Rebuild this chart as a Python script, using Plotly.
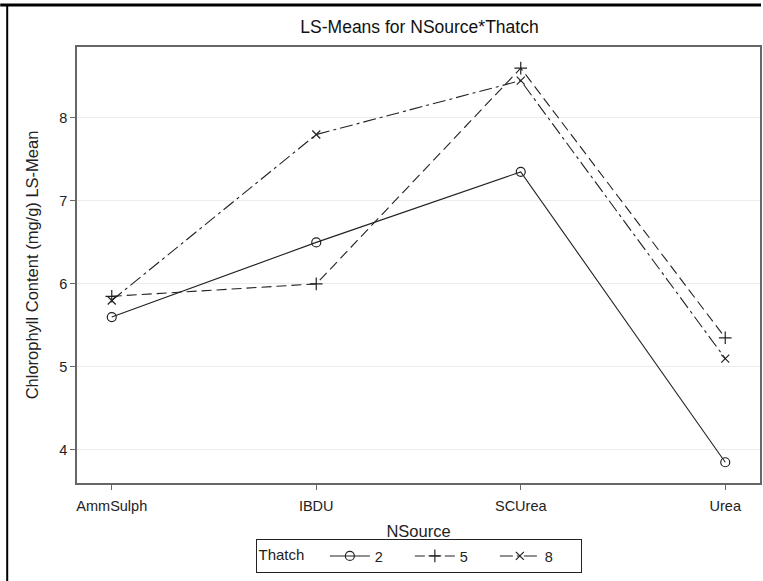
import plotly.graph_objects as go

categories = ["AmmSulph", "IBDU", "SCUrea", "Urea"]
thatch_levels = ["2", "5", "8"]
means_2 = [5.60, 6.50, 7.35, 3.85]
means_5 = [5.85, 6.00, 8.60, 5.35]
means_8 = [5.80, 7.80, 8.45, 5.10]
y_ticks = [4, 5, 6, 7, 8]

W, H = 763, 581
ml, mr, mt, mb = 77, 1, 47, 98
pw, ph = W - ml - mr, H - mt - mb

styles = [
    (means_2, "solid", "circle-open", 9),
    (means_5, "10px,5px", "cross-thin", 9),
    (means_8, "13px,4px,3px,4px", "x-thin", 8),
]

fig = go.Figure()
for lvl, (vals, dash, sym, sz) in zip(thatch_levels, styles):
    fig.add_trace(go.Scatter(
        x=categories, y=vals, name=lvl, mode="lines+markers",
        line=dict(color="#222222", width=1.1, dash=dash),
        marker=dict(symbol=sym, size=sz, color="#222222",
                    line=dict(color="#222222", width=1.2)),
    ))

font = "Liberation Sans, Arial, sans-serif"
fig.update_layout(
    width=W, height=H,
    margin=dict(l=ml, r=mr, t=mt, b=mb, pad=0),
    paper_bgcolor="white", plot_bgcolor="white",
    font=dict(family=font, size=14.5, color="#222222"),
    title=dict(text="LS-Means for NSource*Thatch", x=(ml + pw / 2) / W, xanchor="center",
               y=1 - 27 / H, yanchor="middle", font=dict(size=17.5, color="#111111")),
    showlegend=True,
    legend=dict(
        orientation="h", x=0.5, xanchor="center", y=(ph - (556 - mt)) / ph, yanchor="middle",
        bordercolor="#222222", borderwidth=1, bgcolor="white",
        title=dict(text="Thatch   ", side="left", font=dict(size=15)),
        font=dict(size=14.5), itemwidth=40, entrywidth=30, tracegroupgap=0,
    ),
    xaxis=dict(
        type="category", range=[-0.17, 3.17],
        showline=True, linecolor="#666666", linewidth=1.5, mirror=True,
        ticks="outside", ticklen=5, tickcolor="#666666", tickwidth=1,
        ticklabelstandoff=4,
        showgrid=False, zeroline=False,
        tickfont=dict(size=14.5),
        title=dict(text="NSource", font=dict(size=16.5), standoff=12),
    ),
    yaxis=dict(
        range=[3.60, 8.855], tickvals=y_ticks,
        showline=True, linecolor="#666666", linewidth=1.5, mirror=True,
        ticks="outside", ticklen=5, tickcolor="#666666", tickwidth=1,
        showgrid=True, gridcolor="#ececec", gridwidth=1, zeroline=False,
        tickfont=dict(size=14.5),
        title=dict(text="Chlorophyll Content (mg/g) LS-Mean", font=dict(size=16.5), standoff=16),
    ),
    shapes=[
        dict(type="line", xref="paper", yref="paper",
             x0=-ml / pw, x1=(W - ml) / pw, y0=(ph + mt - 5) / ph, y1=(ph + mt - 5) / ph,
             line=dict(color="black", width=3)),
        dict(type="line", xref="paper", yref="paper",
             x0=(7 - ml) / pw, x1=(7 - ml) / pw, y0=-mb / ph, y1=(ph + mt - 5) / ph,
             line=dict(color="black", width=2)),
    ],
)

fig.write_html("out.html")
